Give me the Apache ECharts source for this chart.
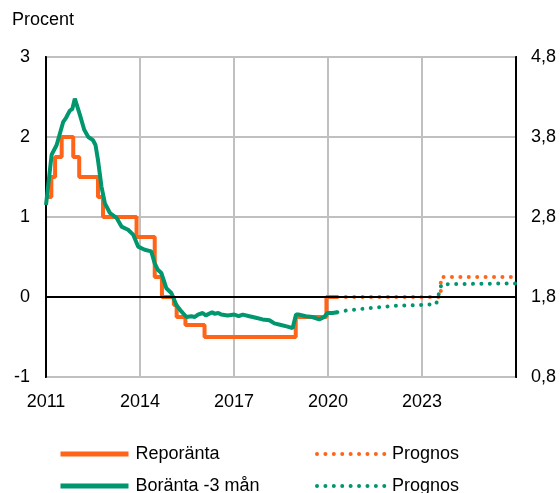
<!DOCTYPE html>
<html>
<head>
<meta charset="utf-8">
<script src="https://cdn.jsdelivr.net/npm/echarts@6/dist/echarts.min.js"></script>
<style>
  body { margin: 0; padding: 0; background: #fff; }
  #main { width: 560px; height: 493px; }
</style>
</head>
<body>
<div id="main"></div>
<script>
// x axis runs from 2011 to 2026, ticks every 3 years
const startYear = 2011;
const endYear = 2026;
const yearTicks = [2011, 2014, 2017, 2020, 2023];

// right axis = left axis + 1.8
const rightOffset = 1.8;

// Reporänta, level changes [year, percent]
const repoTimes  = [2011.0, 2011.17, 2011.29, 2011.5, 2011.87, 2012.06, 2012.66, 2012.82, 2013.89, 2014.47, 2014.7, 2015.08, 2015.17, 2015.45, 2016.06, 2018.97, 2019.95, 2020.3];
const repoValues = [1.25, 1.5, 1.75, 2.0, 1.75, 1.5, 1.25, 1.0, 0.75, 0.25, 0.0, -0.1, -0.25, -0.35, -0.5, -0.25, 0.0, 0.0];

// Reporänta prognos
const repoFcTimes  = [2020.3, 2023.6, 2026.0];
const repoFcValues = [0.0, 0.25, 0.25];

// Boränta 3 mån (right axis, percent)
const boTimes = [2011.0, 2011.18, 2011.34, 2011.55, 2011.64, 2011.76, 2011.84, 2011.92, 2012.08, 2012.22, 2012.35, 2012.5, 2012.58, 2012.66, 2012.77, 2012.88,
  2013.04, 2013.25, 2013.41, 2013.62, 2013.78, 2013.94, 2014.15, 2014.36, 2014.47, 2014.57, 2014.68, 2014.84, 2015.0, 2015.16, 2015.32, 2015.48,
  2015.64, 2015.75, 2015.85, 2016.0, 2016.1, 2016.16, 2016.3, 2016.38, 2016.5, 2016.59, 2016.8, 2017.01, 2017.15, 2017.28, 2017.49, 2017.7, 2017.91,
  2018.13, 2018.29, 2018.5, 2018.71, 2018.87, 2018.98, 2019.08, 2019.29, 2019.5, 2019.72, 2019.88, 2019.98, 2020.14, 2020.3];
const boValues = [2.95, 3.58, 3.7, 3.99, 4.04, 4.13, 4.15, 4.28, 4.08, 3.89, 3.8, 3.76, 3.7, 3.51, 3.18, 2.97,
  2.85, 2.79, 2.68, 2.64, 2.58, 2.43, 2.39, 2.37, 2.22, 2.14, 2.1, 1.91, 1.85, 1.7, 1.62, 1.55,
  1.56, 1.55, 1.58, 1.6, 1.57, 1.58, 1.61, 1.59, 1.6, 1.58, 1.57, 1.58, 1.56, 1.58, 1.56, 1.54, 1.52,
  1.51, 1.47, 1.45, 1.43, 1.41, 1.58, 1.58, 1.56, 1.55, 1.52, 1.55, 1.6, 1.6, 1.61];

// Boränta prognos
const boFcTimes  = [2020.3, 2020.57, 2021.3, 2022.15, 2022.9, 2023.45, 2023.62, 2026.0];
const boFcValues = [1.61, 1.63, 1.66, 1.69, 1.7, 1.71, 1.96, 1.97];

const orange = '#FF6418';
const green = '#00966E';

function pairs(times, values, shift) {
  return times.map((t, i) => [t - startYear, values[i] - (shift || 0)]);
}

const dotted = { type: [0.01, 8.4], cap: 'round', width: 4 };
const fontFamily = 'Liberation Sans, Arial, sans-serif';
const labelFont = { fontFamily: fontFamily, fontSize: 18, color: '#000' };

// one legend per item so the two columns line up
function legendItem(name, left, top, dots) {
  return {
    data: [name],
    left: left, top: top,
    itemWidth: 68, itemHeight: 14,
    itemStyle: { opacity: 0 },
    lineStyle: dots ? { width: 4, cap: 'round', type: [0.01, 8.4] } : { width: 5 },
    formatter: n => n.indexOf('Prognos') === 0 ? 'Prognos' : n,
    textStyle: { fontFamily: fontFamily, fontSize: 18, color: '#000', lineHeight: 14, padding: [0, 0, 0, 2] }
  };
}

const chart = echarts.init(document.getElementById('main'));
chart.setOption({
  animation: false,
  title: {
    text: 'Procent',
    left: 7, top: 6,
    textStyle: { fontFamily: fontFamily, fontSize: 18, fontWeight: 'normal', color: '#000' }
  },
  grid: {
    left: 46, right: 44, top: 57, bottom: 116,
    show: true, borderColor: '#000', borderWidth: 2
  },
  legend: [
    legendItem('Reporänta', 53, 440, false),
    legendItem('Boränta -3 mån', 53, 472, false),
    legendItem('Prognos repo', 310, 440, true),
    legendItem('Prognos bo', 310, 472, true)
  ],
  xAxis: {
    type: 'value',
    min: 0, max: endYear - startYear, interval: 3,
    axisLine: { show: true, lineStyle: { color: '#000', width: 2 } },
    axisTick: { show: false },
    axisLabel: Object.assign({
      margin: 16,
      formatter: v => yearTicks.indexOf(v + startYear) >= 0 ? String(v + startYear) : ''
    }, labelFont),
    splitLine: { show: true, lineStyle: { color: '#c0c0c0', width: 2 } }
  },
  yAxis: [
    {
      type: 'value', min: -1, max: 3, interval: 1,
      axisLine: { show: true, lineStyle: { color: '#000', width: 2 } },
      axisTick: { show: false },
      axisLabel: Object.assign({ margin: 16 }, labelFont),
      splitLine: { show: true, lineStyle: { color: '#c0c0c0', width: 2 } }
    },
    {
      type: 'value', min: -1, max: 3, interval: 1, position: 'right',
      axisLine: { show: true, lineStyle: { color: '#000', width: 2 } },
      axisTick: { show: false },
      axisLabel: Object.assign({
        margin: 15,
        formatter: v => (v + rightOffset).toFixed(1).replace('.', ',')
      }, labelFont),
      splitLine: { show: false }
    }
  ],
  series: [
    {
      name: 'Reporänta', type: 'line', step: 'end', symbol: 'none',
      data: pairs(repoTimes, repoValues),
      lineStyle: { color: orange, width: 4 }, itemStyle: { color: orange },
      z: 3,
      markLine: {
        silent: true, symbol: 'none', label: { show: false },
        lineStyle: { color: '#000', width: 2, type: 'solid' },
        data: [{ yAxis: 0 }]
      }
    },
    {
      name: 'Boränta -3 mån', type: 'line', symbol: 'none', yAxisIndex: 1,
      data: pairs(boTimes, boValues, rightOffset),
      lineStyle: { color: green, width: 4 }, itemStyle: { color: green },
      z: 4
    },
    {
      name: 'Prognos repo', type: 'line', step: 'end', symbol: 'none',
      data: pairs(repoFcTimes, repoFcValues),
      lineStyle: Object.assign({ color: orange }, dotted), itemStyle: { color: orange },
      z: 3
    },
    {
      name: 'Prognos bo', type: 'line', symbol: 'none', yAxisIndex: 1,
      data: pairs(boFcTimes, boFcValues, rightOffset),
      lineStyle: Object.assign({ color: green }, dotted), itemStyle: { color: green },
      z: 4
    }
  ]
});
window.onresize = chart.resize;
</script>
</body>
</html>
